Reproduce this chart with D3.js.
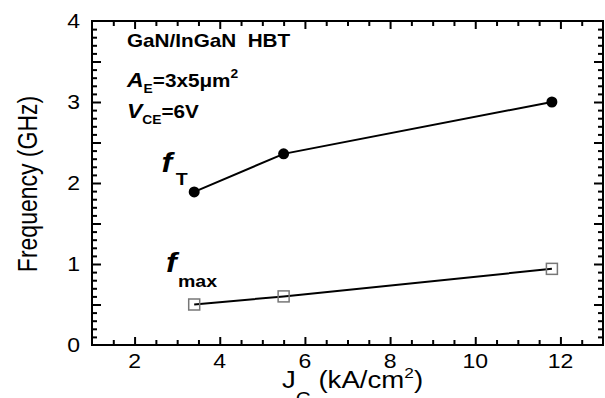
<!DOCTYPE html>
<html>
<head>
<meta charset="utf-8">
<script src="https://cdn.jsdelivr.net/npm/d3@7"></script>
<style>
  body { margin: 0; background: #fff; }
  svg { display: block; font-family: Arial, "Liberation Sans", sans-serif; }
</style>
</head>
<body>
<div id="chart"></div>
<script>
// values
const jc = [3.4, 5.5, 11.8]
const fT = [1.89, 2.36, 3.0]
const fMax = [0.5, 0.6, 0.94]
const xTickLabels = [2, 4, 6, 8, 10, 12]
const yTickLabels = [0, 1, 2, 3, 4]

const W = 605, H = 398
const plotL = 92, plotR = 603, plotT = 21, plotB = 345
const stretch = 1.15 // the original text looks wider than plain Arial

const svg = d3.select("#chart").append("svg")
  .attr("width", W).attr("height", H)

const x = d3.scaleLinear().domain([1, 13]).range([plotL, plotR])
const y = d3.scaleLinear().domain([0, 4]).range([plotB, plotT])

// inward ticks on all four sides, drawn with d3 axes
const xMinor = d3.range(1.5, 13, 0.5).filter(v => v % 2 !== 0)
const xMajor = d3.range(2, 13, 2)
const yMinor = d3.range(1, 40).map(v => v / 10).filter((v, i) => (i + 1) % 5 !== 0)
const yMajor = d3.range(0.5, 4, 0.5)

const tickAxis = (axis, vals, len, tx, ty) => {
  const g = svg.append("g").attr("transform", `translate(${tx},${ty})`)
    .call(axis.tickValues(vals).tickSize(len).tickSizeOuter(0).tickFormat(""))
  g.select(".domain").remove()
  g.selectAll(".tick line").attr("stroke", "#000").attr("stroke-width", 2)
}
tickAxis(d3.axisTop(x), xMinor, 5, 0, plotB)
tickAxis(d3.axisTop(x), xMajor, 8, 0, plotB)
tickAxis(d3.axisBottom(x), xMinor, 5, 0, plotT)
tickAxis(d3.axisBottom(x), xMajor, 8, 0, plotT)
tickAxis(d3.axisRight(y), yMinor, 5, plotL, 0)
tickAxis(d3.axisRight(y), yMajor, 9, plotL, 0)
tickAxis(d3.axisLeft(y), yMinor, 5, plotR, 0)
tickAxis(d3.axisLeft(y), yMajor, 9, plotR, 0)

// frame
svg.append("rect")
  .attr("x", plotL).attr("y", plotT)
  .attr("width", plotR - plotL).attr("height", plotB - plotT)
  .attr("fill", "none").attr("stroke", "#000").attr("stroke-width", 2)

// tick labels
svg.selectAll("text.xl").data(xTickLabels).enter().append("text").attr("class", "xl")
  .attr("transform", d => `translate(${x(d)},368) scale(${stretch},1)`)
  .attr("text-anchor", "middle").attr("font-size", 20)
  .text(d => d)
svg.selectAll("text.ylab").data(yTickLabels).enter().append("text").attr("class", "ylab")
  .attr("transform", d => `translate(80,${y(d) + 7}) scale(${stretch},1)`)
  .attr("text-anchor", "end").attr("font-size", 20)
  .text(d => d)

// axis titles
svg.append("text")
  .attr("transform", "translate(37,184) rotate(-90) scale(1,1.18)")
  .attr("text-anchor", "middle").attr("font-size", 23)
  .text("Frequency (GHz)")

const xTitle = svg.append("text")
  .attr("transform", "translate(282,388) scale(1.15,1)")
  .attr("font-size", 24)
xTitle.append("tspan").text("J")
xTitle.append("tspan").attr("dy", 17).attr("font-size", 18).text("C")
xTitle.append("tspan").attr("dy", -17).text(" (kA/cm")
xTitle.append("tspan").attr("dy", -10).attr("font-size", 15).text("2")
xTitle.append("tspan").attr("dy", 10).text(")")

// series
const lineGen = d3.line().x(d => x(d[0])).y(d => y(d[1]))
const ftData = d3.zip(jc, fT)
const fmData = d3.zip(jc, fMax)

svg.append("path").datum(ftData).attr("d", lineGen)
  .attr("fill", "none").attr("stroke", "#000").attr("stroke-width", 2)
svg.selectAll("circle.ft").data(ftData).enter().append("circle").attr("class", "ft")
  .attr("cx", d => x(d[0])).attr("cy", d => y(d[1])).attr("r", 5.5)
  .attr("fill", "#000")

svg.append("path").datum(fmData).attr("d", lineGen)
  .attr("fill", "none").attr("stroke", "#000").attr("stroke-width", 2)
svg.selectAll("rect.fm").data(fmData).enter().append("rect").attr("class", "fm")
  .attr("x", d => x(d[0]) - 5.5).attr("y", d => y(d[1]) - 5.5)
  .attr("width", 11).attr("height", 11)
  .attr("fill", "none").attr("stroke", "#777").attr("stroke-width", 1.5)

// annotations
const note = svg.append("g").attr("font-weight", "bold").attr("font-size", 18)
  .attr("transform", `translate(127,0) scale(${stretch},1)`)
note.append("text").attr("x", 0).attr("y", 47).attr("xml:space", "preserve").text("GaN/InGaN  HBT")

const ae = note.append("text").attr("x", 0).attr("y", 87)
ae.append("tspan").attr("font-style", "italic").attr("font-size", 20).text("A")
ae.append("tspan").attr("dy", 6).attr("font-size", 12).text("E")
ae.append("tspan").attr("dy", -6).text("=3x5\u03bcm")
ae.append("tspan").attr("dy", -9).attr("font-size", 12).text("2")

const vce = note.append("text").attr("x", 0).attr("y", 118)
vce.append("tspan").attr("font-style", "italic").attr("font-size", 20).text("V")
vce.append("tspan").attr("dy", 6).attr("font-size", 12).text("CE")
vce.append("tspan").attr("dy", -6).text("=6V")

const ftLabel = note.append("text").attr("x", 30).attr("y", 172)
ftLabel.append("tspan").attr("font-style", "italic").attr("font-size", 28).text("f")
ftLabel.append("tspan").attr("dx", 3).attr("dy", 13).attr("font-size", 17).text("T")

const fmLabel = note.append("text").attr("x", 34).attr("y", 272)
fmLabel.append("tspan").attr("font-style", "italic").attr("font-size", 28).text("f")
fmLabel.append("tspan").attr("dx", 1).attr("dy", 15).attr("font-size", 17).text("max")
</script>
</body>
</html>
